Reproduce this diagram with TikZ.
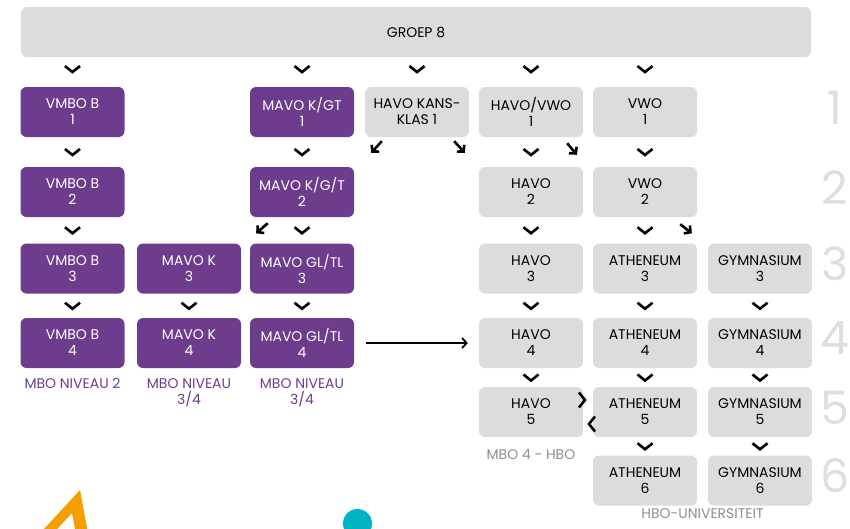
\documentclass[tikz,border=0pt]{standalone}
\usepackage{fontspec}
\setmainfont{Poppins}
\usetikzlibrary{positioning,calc,arrows.meta,decorations.markings}
\definecolor{paars}{HTML}{6E3C8C}
\definecolor{grijs}{HTML}{DCDCDC}
\definecolor{tekstgrijs}{HTML}{8E8E8E}
\definecolor{cijfergrijs}{HTML}{DEDEDE}
\definecolor{oranje}{HTML}{F59E00}
\definecolor{turkoois}{HTML}{00B4C3}

\begin{document}
\begin{tikzpicture}[x=1pt, y=-1pt,
   every node/.style={font=\fontsize{14}{16}\selectfont, align=center, inner sep=0pt},
   box/.style={rounded corners=6pt, minimum width=104pt, minimum height=50pt},
   pbox/.style={box, fill=paars, text=white},
   gbox/.style={box, fill=grijs, text=black},
   plabel/.style={text=paars},
   glabel/.style={text=tekstgrijs},
   jaar/.style={font=\fontsize{46}{46}\selectfont, text=cijfergrijs},
   chev/.style={decoration={markings, mark=at position #1 with
       {\draw[line width=2.6pt] (-3,7.5) -- (3,0) -- (-3,-7.5);}}, postaction=decorate},
   chev/.default=0.5,
   diag/.style={line width=2.6pt, -{Straight Barb[length=4.5pt,width=10pt]}},
   longarrow/.style={line width=1.8pt, -{Straight Barb[length=4.5pt,width=10pt]}}]

\clip (0,0) rectangle (850,528);
\useasboundingbox (0,0) rectangle (850,528);

% groep 8
\node[gbox, minimum width=790pt] (bar) at (416,32) {GROEP 8};

% vmbo
\node[pbox] (v1) at (72.5,112)   {VMBO B\\1};
\node[pbox] (v2) at (72.5,192)   {VMBO B\\2};
\node[pbox] (v3) at (72.5,268.5) {VMBO B\\3};
\node[pbox] (v4) at (72.5,343)   {VMBO B\\4};

% mavo
\node[pbox] (mk3) at (189,268.5) {MAVO K\\3};
\node[pbox] (mk4) at (189,343)   {MAVO K\\4};
\node[pbox] (mg1) at (302,112)   {MAVO K/GT\\1};
\node[pbox] (mg2) at (302,192)   {MAVO K/G/T\\2};
\node[pbox] (mg3) at (302,268.5) {MAVO GL/TL\\3};
\node[pbox] (mg4) at (302,343)   {MAVO GL/TL\\4};

% havo
\node[gbox] (k1)  at (417,112)   {HAVO KANS-\\KLAS 1};
\node[gbox] (hv1) at (531,112)   {HAVO/VWO\\1};
\node[gbox] (h2)  at (531,192)   {HAVO\\2};
\node[gbox] (h3)  at (531,268.5) {HAVO\\3};
\node[gbox] (h4)  at (531,343)   {HAVO\\4};
\node[gbox] (h5)  at (531,412)   {HAVO\\5};

% vwo
\node[gbox] (w1) at (645,112)   {VWO\\1};
\node[gbox] (w2) at (645,192)   {VWO\\2};
\node[gbox] (a3) at (645,268.5) {ATHENEUM\\3};
\node[gbox] (a4) at (645,343)   {ATHENEUM\\4};
\node[gbox] (a5) at (645,412)   {ATHENEUM\\5};
\node[gbox] (a6) at (645,480.5) {ATHENEUM\\6};
\node[gbox] (g3) at (760,268.5) {GYMNASIUM\\3};
\node[gbox] (g4) at (760,343)   {GYMNASIUM\\4};
\node[gbox] (g5) at (760,412)   {GYMNASIUM\\5};
\node[gbox] (g6) at (760,480.5) {GYMNASIUM\\6};

% vervolg
\node[plabel, below=10pt of v4]  (mbo2)  {MBO NIVEAU 2};
\node[plabel, below=10pt of mk4] (mbo34) {MBO NIVEAU\\3/4};
\node[plabel, below=10pt of mg4] (mbo34b) {MBO NIVEAU\\3/4};
\node[glabel, below=12pt of h5]  (hbo)   {MBO 4 - HBO};
\node[glabel, anchor=north] (uni) at ($(a6.south)!.5!(g6.south)+(0,2.5)$) {HBO-UNIVERSITEIT};

% leerjaren
\foreach \n/\y in {1/112,2/192,3/268.5,4/343,5/412,6/480.5}
  \node[jaar] (j\n) at (835,\y-4.5) {\n};

% pijltjes
\foreach \b in {v1,mg1,k1,hv1,w1}
  \path[chev=0.4] (bar.south -| \b) -- (\b.north);
\foreach \a/\b in {v1/v2,v2/v3,v3/v4,mk3/mk4,mg1/mg2,mg2/mg3,mg3/mg4,
                   hv1/h2,h2/h3,h3/h4,h4/h5,w1/w2,w2/a3,a3/a4,a4/a5,a5/a6,
                   g3/g4,g4/g5,g5/g6}
  \path[chev] (\a) -- (\b);
\path[chev=0.447] ([yshift=12pt]h5.center) -- ([yshift=12pt]a5.center);
\path[chev=0.465] ([yshift=-12pt]a5.center) -- ([yshift=-12pt]h5.center);

\draw[diag] ([shift={(17,4)}]k1.south west) -- ([shift={(17,-14)}]mg2.north east);
\draw[diag] ([shift={(-15,4)}]k1.south east) -- ([shift={(-14,-14)}]h2.north west);
\draw[diag] ([shift={(-16,6)}]hv1.south east) -- ([shift={(-16,-12)}]w2.north west);
\draw[diag] ([shift={(18,6)}]mg2.south west) -- ([shift={(15,-10)}]mk3.north east);
\draw[diag] ([shift={(-17,7)}]w2.south east) -- ([shift={(-16,-10)}]g3.north west);

\draw[longarrow, shorten <=12pt, shorten >=11pt] (mg4) -- (h4);

% versiering
\fill[oranje, even odd rule] (80,490) -- (92,555) -- (20,555) -- cycle
                             (72,513) -- (80,555) -- (33,555) -- cycle;
\fill[turkoois] (357.5,523.5) circle (14.5);

\end{tikzpicture}
\end{document}
